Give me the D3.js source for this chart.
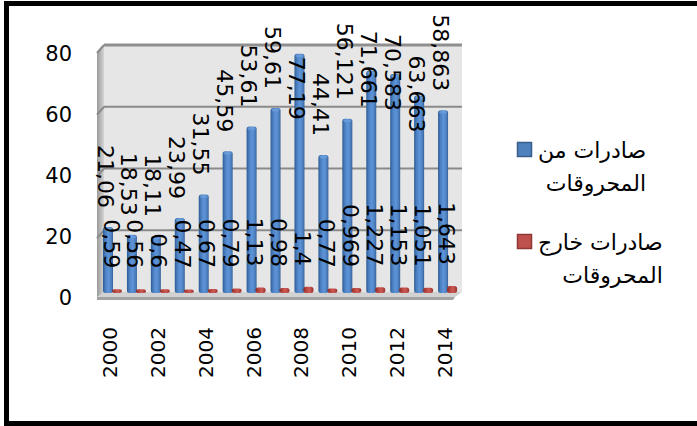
<!DOCTYPE html>
<html>
<head>
<meta charset="utf-8">
<script src="https://cdn.jsdelivr.net/npm/d3@7"></script>
<style>
  body { margin: 0; background: #fff; }
  svg { display: block; }
  text { font-family: "DejaVu Sans", sans-serif; fill: #000; }
</style>
</head>
<body>
<div id="chart"></div>
<script>
// data (billions, as printed)
var years = [2000, 2001, 2002, 2003, 2004, 2005, 2006, 2007, 2008, 2009, 2010, 2011, 2012, 2013, 2014];
var fuelExports = [21.06, 18.53, 18.11, 23.99, 31.55, 45.59, 53.61, 59.61, 77.19, 44.41, 56.121, 71.661, 70.583, 63.663, 58.863];
var nonFuelExports = [0.59, 0.56, 0.6, 0.47, 0.67, 0.79, 1.13, 0.98, 1.4, 0.77, 0.969, 1.227, 1.153, 1.051, 1.643];
var yTicks = [0, 20, 40, 60, 80];
var yearTicks = [2000, 2002, 2004, 2006, 2008, 2010, 2012, 2014];
var seriesNames = [["صادرات من", "المحروقات"], ["صادرات خارج", "المحروقات"]];

(function(){
    var width = 697, height = 426;
    var depth = {dx: 7, dy: -8};
    var wall = {left: 104, right: 462, top: 45, bottom: 292};

    var svg = d3.select('#chart').append('svg').attr('width', width).attr('height', height);
    var defs = svg.append('defs');

    function hGrad(id, stops){
        var g = defs.append('linearGradient').attr('id', id).attr('x1', 0).attr('x2', 1).attr('y1', 0).attr('y2', 0);
        stops.forEach(function(s){ g.append('stop').attr('offset', s[0]).attr('stop-color', s[1]); });
    }
    hGrad('blueBar', [[0, '#2c5a93'], [0.25, '#4b80c2'], [0.55, '#5f95d8'], [0.85, '#4a7dbd'], [1, '#365f96']]);
    hGrad('redBar', [[0, '#862825'], [0.3, '#b9473f'], [0.6, '#cc5a55'], [1, '#9a322e']]);
    hGrad('sideWall', [[0, '#9a9a9a'], [1, '#d4d4d4']]);

    // scales
    var y = d3.scaleLinear().domain([0, 80]).range([wall.bottom, wall.top]);
    var yFront = d3.scaleLinear().domain([0, 80]).range([298, 54]);
    var x = d3.scaleBand().domain(years).range([101, 460]);

    // back wall
    svg.append('rect').attr('x', wall.left).attr('y', wall.top)
        .attr('width', wall.right - wall.left).attr('height', wall.bottom - wall.top)
        .style('fill', '#e6e6e6');

    // side wall
    svg.append('path')
        .attr('d', 'M' + (wall.left - depth.dx) + ',' + (wall.top - depth.dy) +
              'L' + wall.left + ',' + wall.top +
              'L' + wall.left + ',' + wall.bottom +
              'L' + (wall.left - depth.dx) + ',' + (wall.bottom - depth.dy) + 'Z')
        .style('fill', 'url(#sideWall)');

    // gridlines on both walls
    var grid = svg.append('g');
    grid.selectAll('line.back').data(yTicks.slice(1)).enter().append('line')
        .attr('x1', wall.left).attr('x2', wall.right)
        .attr('y1', function(d){ return y(d); }).attr('y2', function(d){ return y(d); })
        .style('stroke', d => d === 80 ? '#8f8f8f' : '#8a8a8a')
        .style('stroke-width', d => d === 80 ? 3 : 2);
    grid.selectAll('line.side').data(yTicks.slice(1)).enter().append('line')
        .attr('x1', wall.left - depth.dx).attr('x2', wall.left)
        .attr('y1', function(d){ return y(d) - depth.dy; }).attr('y2', function(d){ return y(d); })
        .style('stroke', '#8a8a8a').style('stroke-width', 2);

    // floor
    svg.append('path')
        .attr('d', 'M' + wall.left + ',' + wall.bottom + 'L' + wall.right + ',' + wall.bottom +
              'L' + (wall.right - depth.dx) + ',' + (wall.bottom - depth.dy - 3) +
              'L' + (wall.left - depth.dx) + ',' + (wall.bottom - depth.dy - 3) + 'Z')
        .style('fill', '#d2d2d2');
    svg.append('path')
        .attr('d', 'M' + (wall.left - depth.dx) + ',' + (wall.bottom - depth.dy - 3) +
              'L' + (wall.right - depth.dx) + ',' + (wall.bottom - depth.dy - 3) +
              'L' + (wall.right - depth.dx - 2) + ',' + (wall.bottom - depth.dy) +
              'L' + (wall.left - depth.dx) + ',' + (wall.bottom - depth.dy) + 'Z')
        .style('fill', '#a3a3a3');

    // bars
    var rows = years.map(function(yr, i){ return {year: yr, fuel: fuelExports[i], other: nonFuelExports[i]}; });
    var base = y(0) + 1;
    var bars = svg.append('g').selectAll('g').data(rows).enter().append('g');

    bars.append('rect')
        .attr('x', function(d){ return x(d.year) + 2; })
        .attr('y', function(d){ return y(d.fuel); })
        .attr('width', 10)
        .attr('height', function(d){ return base - y(d.fuel); })
        .attr('rx', 2.5)
        .style('fill', 'url(#blueBar)');
    bars.append('ellipse')
        .attr('cx', function(d){ return x(d.year) + 7; })
        .attr('cy', function(d){ return y(d.fuel) + 2; })
        .attr('rx', 4).attr('ry', 1.5)
        .style('fill', '#6c9ddb').style('opacity', 0.8);

    bars.append('rect')
        .attr('x', function(d){ return x(d.year) + 11; })
        .attr('y', function(d){ return y(d.other) - 1; })
        .attr('width', 10)
        .attr('height', function(d){ return base - y(d.other) + 1; })
        .attr('rx', 2.5)
        .style('fill', 'url(#redBar)');

    // value labels, rotated, sitting above the bars
    function fmt(v){ return String(v).replace('.', ','); }
    var labelSize = 22;

    bars.append('text')
        .attr('class', 'fuel')
        .style('font-size', labelSize + 'px')
        .style('dominant-baseline', 'central')
        .text(function(d){ return fmt(d.fuel); })
        .attr('transform', function(d){
            var len = this.getComputedTextLength();
            var barTop = y(d.fuel);
            var top = barTop - 19 - len;
            // Excel pushes labels that do not fit back down
            if (barTop < 65) top = barTop + 3;
            else if (top < 0) top = barTop - 40;
            else top = Math.max(top, 13);
            return 'translate(' + (x(d.year) + 4) + ',' + top + ') rotate(90)';
        });

    bars.append('text')
        .attr('class', 'other')
        .style('font-size', labelSize + 'px')
        .style('dominant-baseline', 'central')
        .text(function(d){ return fmt(d.other); })
        .attr('transform', function(d){
            var len = this.getComputedTextLength();
            var top = y(d.other) - 22 - len;
            return 'translate(' + (x(d.year) + 10) + ',' + top + ') rotate(90)';
        });

    // y axis
    var yAxis = svg.append('g').attr('transform', 'translate(75,0)')
        .call(d3.axisLeft(yFront).tickValues(yTicks).tickSize(0).tickPadding(3));
    yAxis.select('.domain').remove();
    yAxis.selectAll('text').style('font-size', '21px').style('font-family', '"DejaVu Sans", sans-serif');

    // x axis
    var xAxis = svg.append('g').attr('transform', 'translate(-3,300)')
        .call(d3.axisBottom(x).tickValues(yearTicks).tickSize(0));
    xAxis.select('.domain').remove();
    xAxis.selectAll('text')
        .style('font-size', '20px').style('font-family', '"DejaVu Sans", sans-serif')
        .style('text-anchor', 'end')
        .attr('x', -27).attr('y', 0).attr('dy', '0.35em')
        .attr('transform', 'rotate(-90)');

    // legend
    var legend = svg.append('g');
    var colors = [['#4f81bd', '#385d8a'], ['#c0504d', '#8c3836']];
    var legendTop = [142, 234];
    seriesNames.forEach(function(lines, i){
        var g = legend.append('g').attr('transform', 'translate(517,' + legendTop[i] + ')');
        g.append('rect').attr('x', 0.5).attr('y', 0.5).attr('width', 14).attr('height', 14)
            .style('fill', colors[i][0]).style('stroke', colors[i][1]).style('stroke-width', 1.5);
        var t1 = g.append('text').attr('x', 21).attr('y', 16).style('font-size', '22px').text(lines[0]);
        var len = t1.node().getComputedTextLength();
        g.append('text').attr('x', 21 + len).attr('y', 49).style('font-size', '22px')
            .style('text-anchor', 'end').text(lines[1]);
    });

    // frame
    svg.append('path').attr('d', 'M6.5,426V3.5H697')
        .style('fill', 'none').style('stroke', '#000').style('stroke-width', 5);
    svg.append('line').attr('x1', 4).attr('x2', 697).attr('y1', 423.5).attr('y2', 423.5)
        .style('stroke', '#000').style('stroke-width', 5);
})();
</script>
</body>
</html>
